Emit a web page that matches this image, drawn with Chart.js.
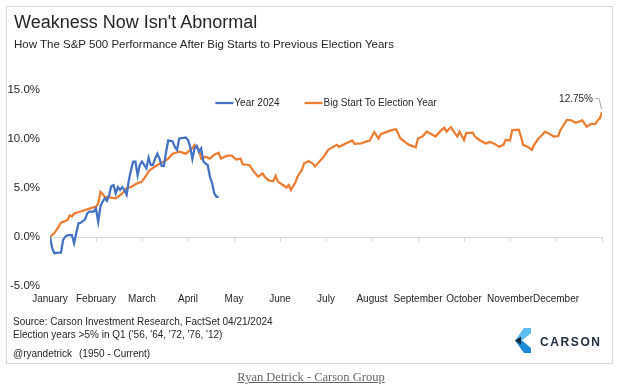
<!DOCTYPE html>
<html>
<head>
<meta charset="utf-8">
<script src="https://cdn.jsdelivr.net/npm/chart.js@4.4.1/dist/chart.umd.min.js"></script>
<style>
  body { margin: 0; background: #fff; font-family: "Liberation Sans", Arial, sans-serif; }
  #wrap { position: relative; width: 622px; height: 389px; overflow: hidden; }
  #frame { position: absolute; left: 6px; top: 6px; width: 605px; height: 356px; border: 1px solid #d9d9d9; }
  #chart { position: absolute; left: 0; top: 0; }
  .t { position: absolute; white-space: nowrap; color: #262626; line-height: 1; }
  #title { left: 14px; top: 13px; font-size: 18px; }
  #subtitle { left: 14px; top: 39px; font-size: 11.5px; }
  .note { font-size: 10px; left: 13px; }
  #logo { position: absolute; left: 515px; top: 328px; }
  #brand { left: 540px; top: 336px; font-size: 12px; font-weight: bold; letter-spacing: 1.6px; color: #1f2d3d; }
  #caption { left: 0; width: 622px; text-align: center; top: 371px; font-family: "Liberation Serif", "DejaVu Serif", serif;
             font-size: 12.5px; color: #666; }
  #caption span { text-decoration: underline; }
</style>
</head>
<body>
<div id="wrap">
  <div id="frame"></div>
  <canvas id="chart" width="622" height="389"></canvas>
  <div class="t" id="title">Weakness Now Isn't Abnormal</div>
  <div class="t" id="subtitle">How The S&amp;P 500 Performance After Big Starts to Previous Election Years</div>
  <div class="t note" style="top:317px">Source: Carson Investment Research, FactSet 04/21/2024</div>
  <div class="t note" style="top:330px">Election years &gt;5% in Q1 ('56, '64, '72, '76, '12)</div>
  <div class="t note" style="top:349px">@ryandetrick</div>
  <div class="t note" style="top:349px;left:79px">(1950 - Current)</div>
  <svg id="logo" width="16" height="25" viewBox="0 0 16 25">
    <polygon points="9,0 16,0 16,5 7,12.5 0,12.5" fill="#5bbdf0"/>
    <polygon points="0,12.5 7,12.5 16,20 16,25 9,25" fill="#1a8ad6"/>
    <polygon points="0,12.5 6,8.5 6,16.5" fill="#1b2a3a"/>
  </svg>
  <div class="t" id="brand">CARSON</div>
  <div class="t" id="caption"><span>Ryan Detrick - Carson Group</span></div>
</div>
<script>
const months = ['January', 'February', 'March', 'April', 'May', 'June', 'July',
  'August', 'September', 'October', 'November', 'December'];
const daysPerMonth = 21;
const yearDays = 252;
const seriesLabels = ['Year 2024', 'Big Start To Election Year'];
const seriesColors = ['#4472c4', '#ed7d31'];
const endLabel = '12.75%';

// trading day of the year -> % gain
const year2024Days = [0, 1, 2, 4, 5, 6, 7, 8, 9, 10, 11, 12, 13, 14, 16, 17, 18, 20, 21, 22,
  23, 24, 25, 26, 27, 28, 29, 30, 31, 32, 33, 34, 35, 36, 37, 38, 39, 40, 41, 42,
  43, 44, 45, 46, 47, 48, 49, 50, 51, 52, 53, 54, 56, 57, 58, 59, 62, 63, 64, 65,
  66, 67, 68, 69, 70, 71, 72, 73, 74, 75, 76, 77];
const year2024Values = [0, -1.15, -1.65, -1.6, -1.6, -0.3, 0.03, 0.2, 0.2, 0.2,
  -0.65, 0.4, 1.4, 1.45, 1.8, 2.4, 2.6, 2.6, 2.9, 1.55,
  3.1, 3.6, 3.95, 3.7, 4.3, 5.2, 5.3, 4.45, 5.1, 4.8,
  5.1, 4.8, 4.3, 5.8, 6.85, 7.7, 7.7, 6.3, 7.35, 7.7,
  7.35, 7.0, 8.1, 7.35, 7.35, 8.0, 8.5, 8.0, 7.25, 7.25,
  8.7, 9.85, 9.75, 9.2, 8.9, 10.05, 10.15, 9.9, 9.2, 7.95,
  9.05, 9.3, 8.7, 9.05, 7.7, 7.5, 7.35, 6.15, 5.5, 4.45,
  4.1, 4.1];

const bigStartDays = [0, 2, 4, 5, 8, 9, 10, 11, 14, 16, 18, 21, 22, 23, 24, 25, 27, 30, 33, 35,
  37, 40, 42, 44, 45, 46, 49, 52, 54, 56, 59, 62, 65, 66, 68, 69, 71, 73, 75, 77,
  78, 81, 83, 85, 87, 88, 91, 93, 95, 97, 98, 100, 102, 103, 104, 107, 108, 109, 110, 112,
  113, 115, 116, 118, 120, 121, 123, 125, 127, 129, 131, 132, 135, 138, 139, 142, 144, 146, 148, 150,
  151, 154, 156, 158, 160, 162, 164, 167, 168, 170, 172, 174, 176, 178, 180, 181, 183, 184, 186, 187,
  189, 190, 193, 194, 196, 199, 201, 203, 205, 207, 208, 210, 211, 214, 215, 216, 218, 220, 221, 223,
  224, 226, 227, 230, 232, 233, 234, 236, 238, 240, 243, 245, 247, 249, 250, 251, 252];
const bigStartValues = [0.0, 0.4, 1.05, 1.46, 1.73, 2.2, 2.1, 2.4, 2.6, 2.75, 2.9, 3.1, 3.4, 4.6, 4.4, 4.1, 4.05, 3.95, 4.45, 4.97,
  5.1, 5.5, 5.65, 6.3, 6.7, 6.9, 7.35, 7.7, 8.0, 8.5, 8.7, 8.5, 9.05, 9.4, 8.9, 8.0, 8.2, 8.0, 8.4, 8.6,
  8.0, 8.3, 8.3, 7.9, 8.0, 7.4, 7.35, 6.7, 6.15, 6.5, 6.15, 5.75, 5.7, 6.25, 5.65, 5.2, 5.05, 5.3, 4.8, 5.55,
  6.15, 6.85, 7.5, 7.75, 7.5, 7.2, 7.7, 8.2, 8.9, 9.15, 9.4, 9.2, 9.55, 9.85, 9.5, 9.55, 9.7, 9.85, 10.7, 10.05,
  10.5, 10.75, 10.9, 11.0, 10.05, 9.7, 9.4, 9.15, 10.05, 10.25, 10.75, 10.5, 10.25, 10.75, 11.15, 10.75, 11.2, 10.85, 10.25, 10.75,
  9.9, 10.6, 10.65, 10.25, 9.9, 9.55, 9.7, 9.5, 9.2, 9.4, 9.9, 9.85, 10.9, 10.95, 10.25, 9.4, 9.2, 8.9, 9.4, 10.05,
  10.25, 10.75, 10.65, 10.25, 10.3, 10.9, 11.25, 11.95, 11.9, 11.65, 11.9, 11.25, 11.55, 11.55, 11.9, 12.1, 12.75];

function toPoints(days, values) {
  return days.map((d, i) => ({ x: d, y: values[i] }));
}

const FONT = '"Liberation Sans", Arial, sans-serif';

// legend drawn inside the plot, centred near the top
const insideLegend = {
  id: 'insideLegend',
  afterDraw(chart) {
    const { ctx, chartArea } = chart;
    const lineW = 18, gapText = 1, gapItem = 25;
    ctx.save();
    ctx.font = '10px ' + FONT;
    ctx.textBaseline = 'middle';
    const items = chart.data.datasets.map(ds => ({
      text: ds.label, color: ds.borderColor,
      w: lineW + gapText + ctx.measureText(ds.label).width
    }));
    const total = items.reduce((s, it) => s + it.w, 0) + gapItem * (items.length - 1);
    let x = (chartArea.left + chartArea.right) / 2 - total / 2;
    const y = chartArea.top + 13;
    items.forEach(it => {
      ctx.strokeStyle = it.color;
      ctx.lineWidth = 2.25;
      ctx.beginPath();
      ctx.moveTo(x, y);
      ctx.lineTo(x + lineW, y);
      ctx.stroke();
      ctx.fillStyle = '#262626';
      ctx.fillText(it.text, x + lineW + gapText, y + 0.5);
      x += it.w + gapItem;
    });
    ctx.restore();
  }
};

// "12.75%" call-out on the last orange point
const endCallout = {
  id: 'endCallout',
  afterDatasetsDraw(chart) {
    const meta = chart.getDatasetMeta(1);
    const last = meta.data[meta.data.length - 1];
    const { ctx } = chart;
    ctx.save();
    ctx.strokeStyle = '#a6a6a6';
    ctx.lineWidth = 1;
    ctx.beginPath();
    ctx.moveTo(last.x - 7, last.y - 13.5);
    ctx.lineTo(last.x - 3, last.y - 13.5);
    ctx.lineTo(last.x - 0.5, last.y - 3);
    ctx.stroke();
    ctx.font = '10px ' + FONT;
    ctx.fillStyle = '#262626';
    ctx.textAlign = 'right';
    ctx.textBaseline = 'middle';
    ctx.fillText(endLabel, last.x - 9, last.y - 12.5);
    ctx.restore();
  }
};

new Chart(document.getElementById('chart'), {
  type: 'line',
  data: {
    datasets: [
      {
        label: seriesLabels[0],
        data: toPoints(year2024Days, year2024Values),
        borderColor: seriesColors[0],
        backgroundColor: seriesColors[0],
        borderWidth: 2.25,
        pointRadius: 0,
        tension: 0
      },
      {
        label: seriesLabels[1],
        data: toPoints(bigStartDays, bigStartValues),
        borderColor: seriesColors[1],
        backgroundColor: seriesColors[1],
        borderWidth: 2.25,
        pointRadius: 0,
        tension: 0
      }
    ]
  },
  options: {
    responsive: false,
    animation: false,
    layout: { padding: { left: 6, top: 90, right: 20, bottom: 81 } },
    scales: {
      x: {
        type: 'linear',
        position: 'bottom',
        min: 0, max: yearDays,
        grid: { display: false, drawTicks: false },
        border: { display: false },
        afterFit(s) { s.height = 22; },
        afterBuildTicks(s) {
          s.ticks = months.map((m, i) => ({ value: i * daysPerMonth }));
        },
        ticks: {
          autoSkip: false, maxRotation: 0, padding: 7,
          font: { family: FONT, size: 10 }, color: '#262626',
          callback: (v) => months[Math.round(v / daysPerMonth)] || ''
        }
      },
      x0: {
        type: 'linear',
        axis: 'x',
        position: { y: 0 },
        min: 0, max: yearDays,
        grid: { drawOnChartArea: false, drawTicks: true, tickLength: 4, color: '#d9d9d9' },
        border: { display: true, color: '#d9d9d9', width: 1 },
        ticks: { display: false, stepSize: daysPerMonth }
      },
      y: {
        type: 'linear',
        position: 'left',
        min: -5, max: 15,
        grid: { display: false, drawTicks: false },
        border: { display: false },
        afterFit(s) { s.width = 44; },
        ticks: {
          stepSize: 5, padding: 10,
          font: { family: FONT, size: 11.5 }, color: '#262626',
          callback: (v) => v.toFixed(1) + '%'
        }
      }
    },
    plugins: {
      legend: { display: false },
      tooltip: { enabled: false }
    }
  },
  plugins: [insideLegend, endCallout]
});
</script>
</body>
</html>
